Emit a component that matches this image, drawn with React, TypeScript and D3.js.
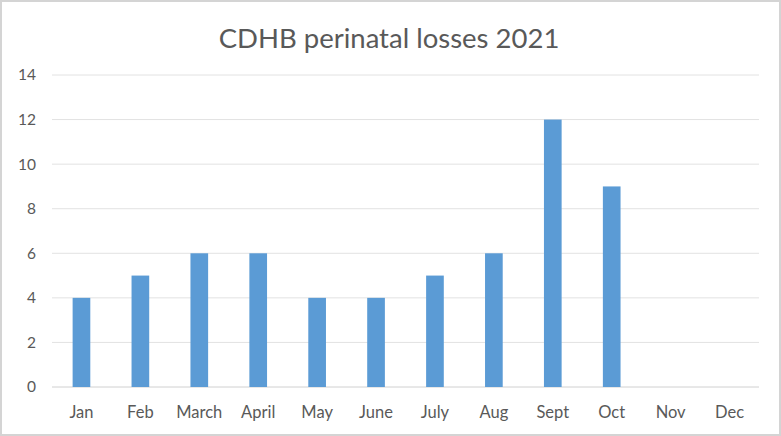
import React from "react";
import * as d3 from "d3";

const months = ["Jan", "Feb", "March", "April", "May", "June", "July", "Aug", "Sept", "Oct", "Nov", "Dec"];
const losses: (number | null)[] = [4, 5, 6, 6, 4, 4, 5, 6, 12, 9, null, null];
const yTicks = [0, 2, 4, 6, 8, 10, 12, 14];
const title = "CDHB perinatal losses 2021";

export default function App() {
  const W = 781, H = 436;
  const left = 52, right = 759, top = 75, bottom = 387;
  const x = d3.scaleBand<string>().domain(months).range([left, right]).paddingInner(0.7).paddingOuter(0.35);
  const y = d3.scaleLinear().domain([0, 14]).range([bottom, top]);
  const font = "Lato, 'Open Sans', sans-serif";
  return (
    <svg width={W} height={H} style={{ position: "fixed", left: 0, top: 0, background: "#fff" }}>
      <rect x={1} y={1} width={W - 2} height={H - 2} fill="#fff" stroke="#d4d4d4" strokeWidth={2} />
      <text x={389} y={48} textAnchor="middle" fontFamily={font} fontSize={27.5} fill="#595959">{title}</text>
      {yTicks.map(t => (
        <g key={t}>
          <line x1={left} x2={right} y1={y(t)} y2={y(t)} stroke={t === 0 ? "#d0d0d0" : "#e2e2e2"} strokeWidth={1} />
          <text x={36} y={y(t)} dy="0.35em" textAnchor="end" fontFamily={font} fontSize={15.5} fill="#595959">{t}</text>
        </g>
      ))}
      {months.map((m, i) => {
        const v = losses[i];
        return (
          <g key={m}>
            {v != null && (
              <rect x={x(m)!} y={y(v)} width={x.bandwidth()} height={y(0) - y(v)} fill="#5B9BD5" />
            )}
            <text x={x(m)! + x.bandwidth() / 2} y={418} textAnchor="middle" fontFamily={font} fontSize={16.5} fill="#595959">{m}</text>
          </g>
        );
      })}
    </svg>
  );
}
